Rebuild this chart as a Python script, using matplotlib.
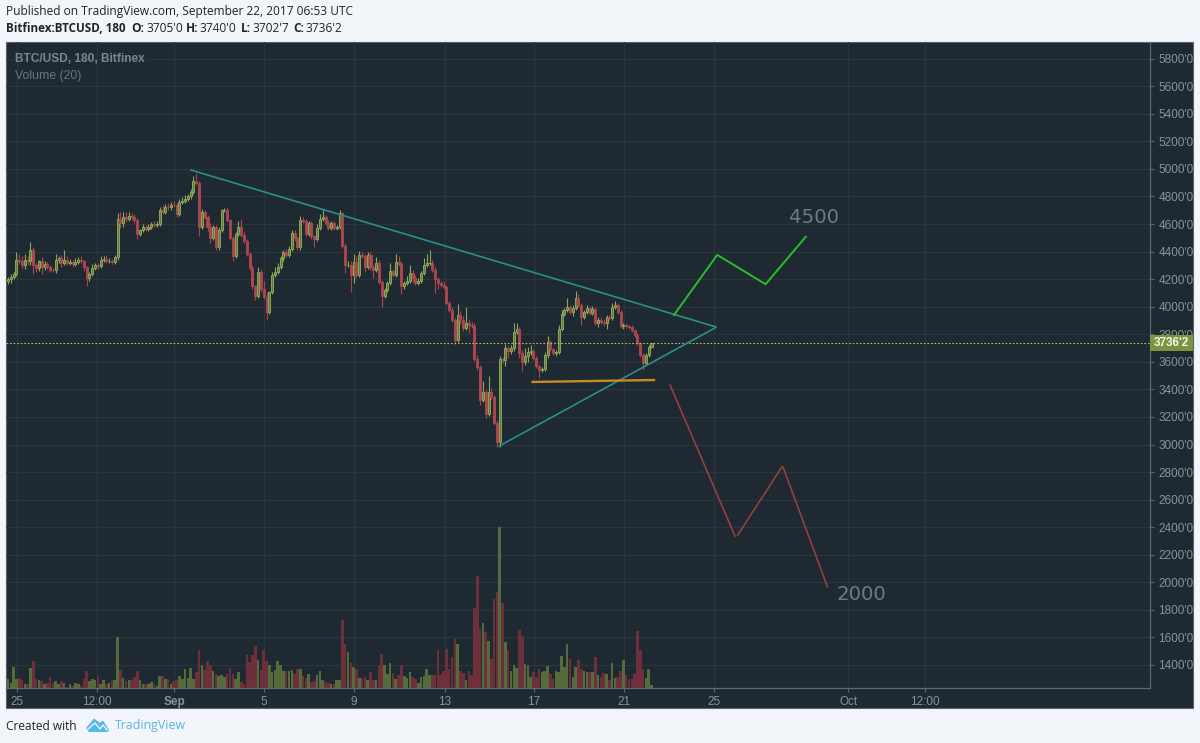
#!/usr/bin/env python3
"""BTC/USD 3h chart with triangle and projected moves, TradingView dark style."""

import matplotlib

matplotlib.use('Agg')
import matplotlib.pyplot as plt
from matplotlib.patches import Polygon, Rectangle
from matplotlib.transforms import blended_transform_factory

FIRST_OPEN = 4190
closes = [
    4200, 4215, 4240, 4340, 4335, 4300, 4340, 4330, 4410, 4300,
    4280, 4330, 4290, 4310, 4290, 4270, 4265, 4340, 4350, 4320,
    4340, 4320, 4325, 4310, 4325, 4340, 4330, 4290, 4210, 4240,
    4280, 4300, 4295, 4340, 4345, 4330, 4335, 4325, 4360, 4640,
    4610, 4650, 4640, 4660, 4650, 4630, 4530, 4555, 4575, 4565,
    4580, 4600, 4590, 4600, 4700, 4690, 4725, 4720, 4740, 4735,
    4670, 4760, 4770, 4785, 4800, 4830, 4910, 4895, 4580, 4690,
    4650, 4580, 4500, 4580, 4430, 4560, 4700, 4700, 4630, 4500,
    4365, 4530, 4580, 4520, 4480, 4380, 4280, 4150, 4080, 4255,
    4130, 4070, 3960, 4105, 4230, 4250, 4290, 4350, 4400, 4375,
    4420, 4535, 4500, 4430, 4630, 4620, 4530, 4610, 4510, 4490,
    4570, 4640, 4650, 4610, 4570, 4610, 4570, 4580, 4680, 4440,
    4305, 4305, 4230, 4325, 4230, 4375, 4370, 4290, 4375, 4285,
    4270, 4320, 4180, 4080, 4120, 4170, 4260, 4230, 4325, 4310,
    4150, 4170, 4190, 4245, 4210, 4170, 4190, 4245, 4305, 4320,
    4320, 4270, 4200, 4170, 4160, 4140, 4030, 3975, 3905, 3760,
    3940, 3905, 3845, 3880, 3870, 3860, 3620, 3560, 3320, 3380,
    3225, 3380, 3345, 3155, 3015, 3620, 3610, 3700, 3680, 3700,
    3815, 3835, 3665, 3600, 3640, 3670, 3675, 3625, 3570, 3540,
    3545, 3650, 3745, 3690, 3665, 3670, 3840, 3950, 3975, 3995,
    3960, 3990, 4065, 4010, 3925, 3960, 3990, 3955, 3985, 3880,
    3905, 3890, 3880, 3925, 3920, 4000, 4010, 3960, 3860, 3870,
    3860, 3855, 3830, 3795, 3735, 3650, 3590, 3650, 3705, 3736.2,
]
upper_wicks = [
    15, 20, 15, 60, 40, 30, 40, 25, 60, 20,
    15, 10, 30, 20, 15, 15, 10, 40, 20, 25,
    70, 25, 20, 15, 25, 20, 25, 10, 5, 15,
    30, 15, 20, 25, 20, 30, 20, 10, 15, 40,
    50, 40, 40, 30, 20, 20, 15, 10, 25, 20,
    20, 15, 25, 20, 25, 35, 20, 30, 20, 25,
    15, 20, 25, 25, 20, 25, 40, 60, 15, 20,
    15, 15, 30, 10, 15, 15, 10, 15, 20, 10,
    15, 10, 40, 60, 20, 15, 15, 20, 10, 30,
    20, 60, 40, 10, 20, 40, 30, 20, 15, 20,
    20, 25, 20, 15, 25, 20, 15, 15, 15, 10,
    30, 30, 60, 15, 20, 15, 15, 15, 20, 10,
    20, 30, 30, 60, 40, 30, 20, 15, 25, 20,
    15, 40, 20, 15, 15, 15, 60, 15, 60, 40,
    20, 20, 30, 60, 20, 20, 20, 15, 50, 60,
    90, 20, 15, 15, 15, 25, 15, 15, 20, 10,
    80, 30, 30, 120, 30, 20, 20, 30, 20, 80,
    15, 120, 30, 15, 20, 20, 15, 30, 15, 20,
    70, 50, 20, 20, 60, 40, 50, 15, 15, 10,
    15, 20, 40, 15, 10, 15, 30, 25, 15, 70,
    20, 20, 50, 30, 15, 15, 20, 15, 20, 15,
    20, 20, 20, 15, 15, 30, 30, 15, 15, 15,
    15, 10, 15, 10, 15, 10, 15, 15, 20, 3.8,
]
lower_wicks = [
    25, 30, 15, 20, 25, 20, 25, 30, 25, 60,
    25, 20, 50, 20, 15, 20, 15, 20, 20, 30,
    15, 15, 20, 25, 15, 15, 15, 30, 60, 25,
    15, 15, 20, 15, 15, 15, 15, 15, 15, 20,
    40, 30, 25, 15, 20, 25, 40, 15, 15, 15,
    15, 15, 15, 15, 15, 15, 20, 15, 15, 15,
    20, 15, 15, 15, 15, 15, 15, 15, 70, 15,
    15, 30, 40, 15, 20, 15, 15, 15, 15, 15,
    30, 15, 15, 15, 15, 15, 15, 20, 30, 15,
    20, 15, 60, 15, 15, 15, 15, 15, 15, 15,
    15, 15, 20, 15, 15, 15, 15, 15, 20, 60,
    15, 15, 15, 15, 15, 15, 15, 15, 15, 15,
    60, 15, 120, 60, 20, 15, 20, 40, 15, 20,
    60, 15, 15, 80, 15, 15, 15, 15, 15, 15,
    60, 25, 15, 15, 30, 15, 15, 15, 15, 15,
    15, 20, 100, 40, 15, 15, 15, 15, 15, 30,
    15, 30, 20, 15, 60, 15, 15, 20, 30, 15,
    30, 15, 15, 15, 30, 30, 15, 40, 50, 20,
    20, 15, 40, 70, 20, 40, 20, 15, 15, 60,
    15, 15, 20, 15, 15, 20, 15, 15, 15, 15,
    15, 25, 15, 15, 60, 15, 15, 15, 15, 15,
    25, 15, 20, 40, 15, 15, 15, 15, 15, 25,
    15, 15, 15, 15, 15, 15, 50, 15, 15, 2.3,
]
volumes = [
    9, 5, 21, 9, 10, 8, 4, 4, 20, 27,
    9, 8, 7, 4, 5, 11, 5, 7, 4, 7,
    5, 1, 4, 2, 5, 4, 2, 9, 17, 7,
    9, 8, 12, 4, 8, 4, 5, 7, 8, 51,
    18, 10, 7, 8, 8, 11, 17, 8, 4, 4,
    4, 6, 4, 2, 12, 12, 9, 9, 4, 7,
    8, 12, 9, 19, 10, 20, 9, 16, 38, 23,
    18, 27, 23, 17, 14, 12, 13, 11, 14, 20,
    14, 9, 16, 6, 4, 33, 26, 33, 42, 28,
    18, 38, 27, 23, 16, 18, 27, 23, 17, 17,
    17, 18, 14, 19, 19, 12, 10, 14, 6, 7,
    13, 17, 8, 6, 5, 4, 4, 8, 8, 68,
    44, 36, 25, 21, 19, 10, 10, 11, 8, 16,
    8, 8, 22, 34, 23, 14, 25, 15, 9, 13,
    23, 12, 10, 16, 11, 9, 5, 11, 12, 19,
    13, 13, 13, 38, 13, 17, 39, 19, 31, 49,
    44, 17, 15, 8, 17, 13, 80, 112, 59, 65,
    56, 47, 29, 89, 96, 161, 85, 46, 38, 17,
    23, 20, 58, 52, 24, 23, 11, 16, 11, 19,
    16, 17, 22, 14, 9, 17, 16, 32, 21, 44,
    29, 11, 21, 28, 19, 17, 16, 16, 16, 31,
    13, 11, 15, 14, 8, 25, 10, 11, 17, 28,
    13, 9, 9, 14, 57, 38, 19, 10, 19, 3,
]

time_tick_bars = [3.2, 31.5, 59.1, 91.1, 123.1, 155.4, 187.2, 219.2, 251.3, 299, 326.4]
time_tick_labels = ['25', '12:00', 'Sep', '5', '9', '13', '17', '21', '25', 'Oct', '12:00']
price_ticks = list(range(1400, 6000, 200))

# drawings as (bar, price)
upper_trend = ([65.1, 252], [4992, 3853])
lower_trend = ([174.8, 251.6], [2989, 3846])
support_line = ([186.7, 229.9], [3454, 3468])
bull_path = ([237, 252.4, 269.6, 283.9], [3940, 4376, 4163, 4508])
bear_legs = [
    ([235.6, 258.7], [3432, 2336]),
    ([259.7, 275.3], [2344, 2834]),
    ([275.8, 291.6], [2837, 1968]),
]

W, H = 1200, 743
PANE_L, PANE_R, PANE_T, PANE_B = 6, 1150, 42, 688
PANEL_R, PANEL_B = 1193, 708
BG = '#f2f5f9'
DARK = '#1e2932'
GRID = '#2a353d'
AXIS = '#5d676e'
TICK_TEXT = '#8b9298'
UP, UP_EDGE = '#5f7a3c', '#8ca65a'
DOWN, DOWN_EDGE = '#ac4650', '#a8454f'
VOL_UP, VOL_DOWN = '#566b3c', '#6d2f39'

SANS = 'Liberation Sans'
HEAD = 'Open Sans'

opens = [FIRST_OPEN] + closes[:-1]  # each bar opens on the previous close
bars = list(range(len(closes)))
is_up = [c >= o for o, c in zip(opens, closes)]
highs = [max(o, c) + u for o, c, u in zip(opens, closes, upper_wicks)]
lows = [min(o, c) - l for o, c, l in zip(opens, closes, lower_wicks)]

fig = plt.figure(figsize=(W / 100, H / 100), dpi=100, facecolor=BG)
fig.add_artist(Rectangle(
    (PANE_L / W, 1 - PANEL_B / H), (PANEL_R - PANE_L) / W, (PANEL_B - PANE_T) / H,
    transform=fig.transFigure, facecolor=DARK, edgecolor='#59636a', linewidth=0.8, zorder=-1))


def fig_text(px, py, s, **kw):
    kw.setdefault('va', 'center')
    kw.setdefault('family', HEAD)
    kw.setdefault('color', '#1f2429')
    return fig.text(px / W, 1 - py / H, s, **kw)


ax = fig.add_axes([PANE_L / W, 1 - PANE_B / H, (PANE_R - PANE_L) / W, (PANE_B - PANE_T) / H])
ax.patch.set_visible(False)
ax.set_xlim(-0.71, 406.4)
ymin, ymax = 1233, 5921
ax.set_ylim(ymin, ymax)
price_per_px = (ymax - ymin) / (PANE_B - PANE_T)

ax.set_axisbelow(True)
ax.grid(True, color=GRID, linewidth=0.9)

ax.bar(bars, [v * price_per_px for v in volumes], bottom=ymin, width=0.92,
       color=[VOL_UP if u else VOL_DOWN for u in is_up], linewidth=0, zorder=1)

ax.vlines(bars, lows, highs, colors=[UP_EDGE if u else DOWN_EDGE for u in is_up],
          linewidth=0.8, zorder=2)
ax.bar(bars, [abs(c - o) for o, c in zip(opens, closes)],
       bottom=[min(o, c) for o, c in zip(opens, closes)], width=0.72,
       color=[UP if u else DOWN for u in is_up],
       edgecolor=[UP_EDGE if u else DOWN_EDGE for u in is_up], linewidth=0.7, zorder=3)

ax.axhline(closes[-1], color='#b4c06c', linewidth=0.8, linestyle=(0, (1.5, 1.7)), zorder=4)

ax.plot(*upper_trend, color='#2a8f88', linewidth=1.2, zorder=5)
ax.plot(*lower_trend, color='#2a8f88', linewidth=1.2, zorder=5)
ax.plot(*support_line, color='#c98b22', linewidth=1.7, zorder=5)
ax.plot(*bull_path, color='#27bd2c', linewidth=1.4, zorder=6)
for xs, ys in bear_legs:
    ax.plot(xs, ys, color='#8f423e', linewidth=1.2, zorder=6)

ax.text(278, 4645, '4500', color='#6b7a88', fontsize=14.2, va='center', family='DejaVu Sans')
ax.text(294.9, 1915, '2000', color='#6b7a88', fontsize=14.2, va='center', family='DejaVu Sans')

for side in ('top', 'left'):
    ax.spines[side].set_visible(False)
for side in ('right', 'bottom'):
    ax.spines[side].set_color(AXIS)
    ax.spines[side].set_linewidth(0.9)

ax.yaxis.tick_right()
ax.set_yticks(price_ticks)
ax.set_yticklabels([f"{p}'0" for p in price_ticks], family=SANS, fontsize=8.5, color=TICK_TEXT)
ax.set_xticks(time_tick_bars)
ax.set_xticklabels(time_tick_labels, family=SANS, fontsize=8.5, color=TICK_TEXT)
ax.get_xticklabels()[2].set_fontweight('bold')
ax.tick_params(axis='y', length=3, color=AXIS, pad=3)
ax.tick_params(axis='x', length=3, color=AXIS, pad=3)

# last price tag over the scale
trans = blended_transform_factory(ax.transAxes, ax.transData)
scale_w = (PANEL_R - PANE_R) / (PANE_R - PANE_L)
ax.add_patch(Rectangle((1, closes[-1] - 58), scale_w, 116, transform=trans,
                       facecolor='#7a9440', edgecolor='none', clip_on=False, zorder=7))
ax.text(1 + 0.5 * scale_w, closes[-1], "3736'2", transform=trans, color='#f4f7ea',
        family=SANS, fontsize=8.5, fontweight='bold', ha='center', va='center',
        clip_on=False, zorder=8)

# header
fig_text(6, 11, 'Published on TradingView.com, September 22, 2017 06:53 UTC', fontsize=8.55)
fig_text(6, 29, 'Bitfinex:BTCUSD, 180', fontsize=8.4, fontweight='bold')
for px, label, value, val_px in [(131, 'O:', "3705'0", 146), (186, 'H:', "3740'0", 199),
                                 (241, 'L:', "3702'7", 252), (293, 'C:', "3736'2", 305)]:
    fig_text(px, 29, label, fontsize=8.55, fontweight='bold')
    fig_text(val_px, 29, value, fontsize=8.55)

# pane legend
fig_text(15, 59, 'BTC/USD, 180, Bitfinex', family=SANS, fontsize=8.55, fontweight='bold', color='#7c858c')
fig_text(15, 76, 'Volume (20)', family=SANS, fontsize=8.8, color='#69747c')

# footer
fig_text(6, 726, 'Created with', fontsize=8.6)
fig_text(115, 726, 'TradingView', fontsize=8.9, color='#5ab4e2')
logo = [(86, 728), (94, 718.5), (100, 723), (103, 720.5), (109, 730), (108, 732), (89, 732)]
fig.add_artist(Polygon([(x / W, 1 - y / H) for x, y in logo], closed=True,
                       transform=fig.transFigure, facecolor='#55b8e6', edgecolor='none'))
fig.add_artist(plt.Line2D([x / W for x in (88, 95, 100, 103, 107)],
                          [1 - y / H for y in (729, 723, 729, 725, 730)],
                          transform=fig.transFigure, color=BG, linewidth=1.0))

fig.savefig('out.png', dpi=100, facecolor=BG)
